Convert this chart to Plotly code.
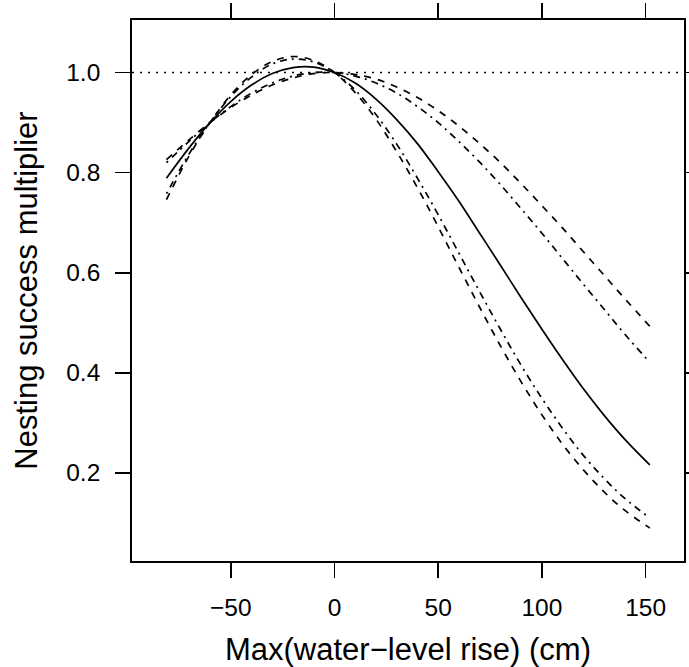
import plotly.graph_objects as go

# Max water-level rise (cm)
x_vals = [-81, -70, -60, -50, -40, -30, -20, -10, 0, 10, 20, 30, 40, 50, 60, 70,
          80, 90, 100, 110, 120, 130, 140, 152]

solid = [0.789, 0.850, 0.900, 0.942, 0.975, 0.998, 1.010, 1.011, 1.000, 0.979, 0.947,
         0.906, 0.858, 0.802, 0.743, 0.679, 0.615, 0.550, 0.487, 0.426, 0.368, 0.315,
         0.267, 0.216]
dash_upper = [0.826, 0.866, 0.900, 0.930, 0.955, 0.975, 0.989, 0.998, 1.000, 0.996,
              0.987, 0.971, 0.950, 0.924, 0.893, 0.858, 0.820, 0.778, 0.734, 0.689,
              0.642, 0.595, 0.548, 0.493]
dotdash_upper = [0.820, 0.863, 0.900, 0.932, 0.959, 0.979, 0.993, 1.000, 1.000, 0.993,
                 0.979, 0.959, 0.932, 0.900, 0.862, 0.821, 0.776, 0.728, 0.679, 0.628,
                 0.577, 0.527, 0.477, 0.421]
dotdash_lower = [0.758, 0.838, 0.900, 0.952, 0.991, 1.017, 1.027, 1.021, 1.000, 0.965,
                 0.916, 0.857, 0.789, 0.716, 0.639, 0.562, 0.487, 0.415, 0.349, 0.289,
                 0.235, 0.189, 0.149, 0.110]
dash_lower = [0.746, 0.834, 0.900, 0.955, 0.996, 1.022, 1.032, 1.024, 1.000, 0.960,
              0.907, 0.842, 0.770, 0.692, 0.611, 0.531, 0.454, 0.382, 0.316, 0.257,
              0.206, 0.162, 0.125, 0.090]

x_ticks = [-50, 0, 50, 100, 150]
y_ticks = [0.2, 0.4, 0.6, 0.8, 1.0]

FONT = "Liberation Sans, Arial, Helvetica, sans-serif"
DASH = "7px,7px"
DOTDASH = "2px,5px,7px,5px"

series = [
    (solid, "solid"),
    (dash_upper, DASH),
    (dotdash_upper, DOTDASH),
    (dotdash_lower, DOTDASH),
    (dash_lower, DASH),
]

fig = go.Figure()
for ys, dash in series:
    fig.add_trace(go.Scatter(
        x=x_vals, y=ys, mode="lines",
        line=dict(color="black", width=1.7, dash=dash, shape="spline", smoothing=1.0),
        showlegend=False, hoverinfo="skip",
    ))

fig.add_shape(type="line", xref="paper", x0=0, x1=1, yref="y", y0=1.0, y1=1.0,
              line=dict(color="black", width=1.5, dash="2px,6px"), layer="below")

axis_common = dict(
    showgrid=False, zeroline=False, showline=True, linecolor="black", linewidth=1.8,
    mirror="allticks", ticks="outside", ticklen=15, tickwidth=1.6, tickcolor="black",
    tickfont=dict(family=FONT, size=24.5, color="black"), automargin=False,
)

fig.update_xaxes(
    range=[-97.6, 168.5], tickmode="array", tickvals=x_ticks, ticklabelstandoff=9,
    title=dict(text="Max(water\u2212level rise) (cm)", standoff=25,
               font=dict(family=FONT, size=31, color="black")),
    **axis_common,
)
fig.update_yaxes(
    range=[0.024, 1.105], tickmode="array", tickvals=y_ticks, tickformat=".1f",
    ticklabelstandoff=10,
    title=dict(text="Nesting success multiplier", standoff=19,
               font=dict(family=FONT, size=31, color="black")),
    **axis_common,
)

fig.update_layout(
    width=689, height=667,
    margin=dict(l=132, r=4.5, t=20, b=106.3),
    paper_bgcolor="white", plot_bgcolor="white",
    font=dict(family=FONT, color="black"),
)

fig.write_html(
    "out.html",
    config={"displayModeBar": False, "staticPlot": True},
    post_script="document.body.style.margin='0';document.body.style.overflow='hidden';",
)
